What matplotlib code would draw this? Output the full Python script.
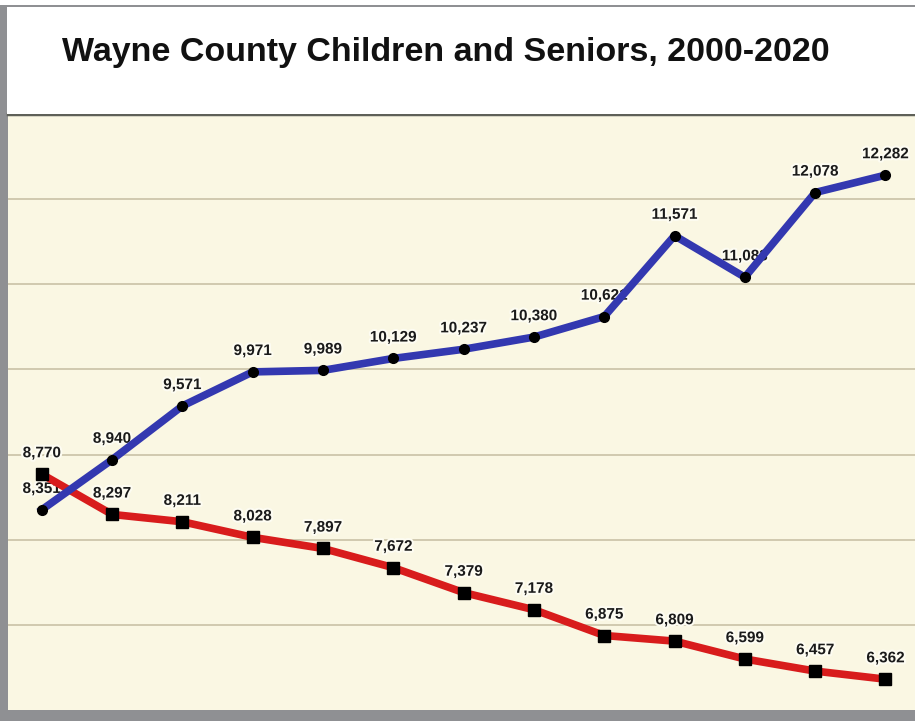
import matplotlib.pyplot as plt
import matplotlib.patheffects as pe

# 13 data points between 2000 and 2020 (no axis labels shown on the chart)
points = list(range(13))
seniors = [8351, 8940, 9571, 9971, 9989, 10129, 10237, 10380, 10621, 11571, 11083, 12078, 12282]
children = [8770, 8297, 8211, 8028, 7897, 7672, 7379, 7178, 6875, 6809, 6599, 6457, 6362]

plt.rcParams['font.family'] = ['Liberation Sans', 'DejaVu Sans']

fig = plt.figure(figsize=(9.15, 7.21), dpi=100)
fig.patch.set_facecolor('#8f9093')

# white title panel and white strip above the top frame line
fig.patches.append(plt.Rectangle((7 / 915, (721 - 114) / 721), 1, 107 / 721,
                                 transform=fig.transFigure,
                                 facecolor='white', edgecolor='none', zorder=0))
fig.patches.append(plt.Rectangle((0, 716 / 721), 1, 5 / 721, transform=fig.transFigure,
                                 facecolor='white', edgecolor='none', zorder=0))

ax = fig.add_axes([8 / 915, 11 / 721, 1 - 8 / 915, (721 - 114 - 11) / 721])
ax.set_facecolor('#faf7e3')

ax.plot(points, children, '-', color='#d81c1c', linewidth=5.5, zorder=3,
        marker='s', markersize=8, markerfacecolor='black', markeredgecolor='black')
ax.plot(points, seniors, '-', color='#3338b0', linewidth=5.5, zorder=4,
        marker='o', markersize=7, markerfacecolor='black', markeredgecolor='black')

glow = [pe.withStroke(linewidth=3, foreground='#fdfcf2')]
for x, v in zip(points, seniors):
    ax.annotate(f'{v:,}', (x, v), xytext=(0, 10), textcoords='offset points',
                ha='center', va='bottom', fontsize=11, fontweight='bold',
                color='#1a1a1a', path_effects=glow, zorder=2)
for x, v in zip(points, children):
    ax.annotate(f'{v:,}', (x, v), xytext=(0, 10), textcoords='offset points',
                ha='center', va='bottom', fontsize=11, fontweight='bold',
                color='#1a1a1a', path_effects=glow, zorder=2)

ax.set_ylim(6000, 13000)
ax.set_xlim(-0.48, 12.42)
ax.set_yticks(range(7000, 13000, 1000))
ax.yaxis.grid(True, color='#c9c1a6', linewidth=1.2)
ax.set_axisbelow(True)
ax.tick_params(left=False, bottom=False, labelleft=False, labelbottom=False)
for s in ['left', 'right', 'bottom']:
    ax.spines[s].set_visible(False)
ax.spines['top'].set_color('#5e6058')
ax.spines['top'].set_linewidth(2.5)

fig.text(62 / 915, 1 - 52 / 721, 'Wayne County Children and Seniors, 2000-2020',
         fontsize=24.5, fontweight='bold', color='#111111', va='center', ha='left')

fig.savefig('out.png', dpi=100, facecolor=fig.get_facecolor())
